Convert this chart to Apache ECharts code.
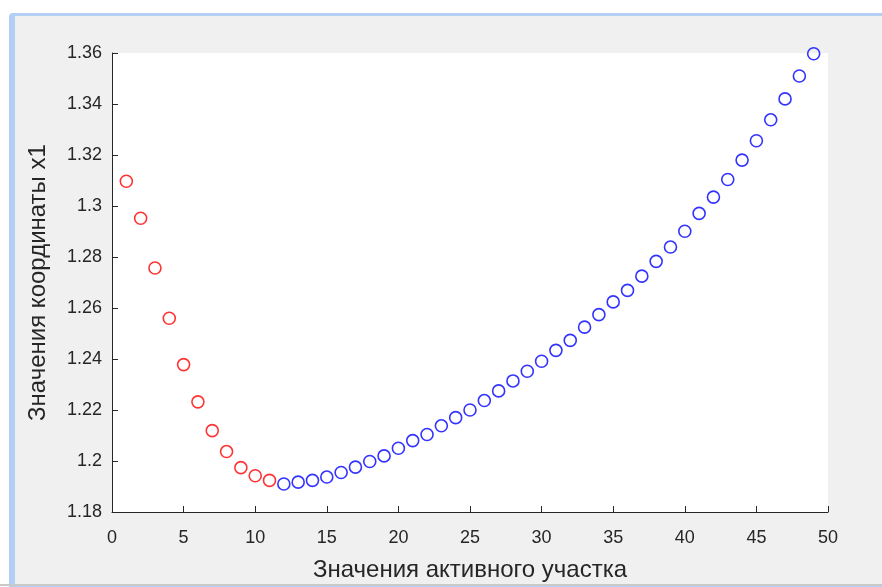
<!DOCTYPE html>
<html>
<head>
<meta charset="utf-8">
<script src="https://cdn.jsdelivr.net/npm/echarts@6/dist/echarts.min.js"></script>
<style>
html,body{margin:0;padding:0;background:#fff;}
#chart{width:882px;height:587px;}
</style>
</head>
<body>
<div id="chart"></div>
<script>
// Data
const xRed = [1,2,3,4,5,6,7,8,9,10,11];
const yRed = [1.3097,1.2952,1.2757,1.2560,1.2378,1.2232,1.2119,1.2037,1.1974,1.1942,1.1924];
const xBlue = [12,13,14,15,16,17,18,19,20,21,22,23,24,25,26,27,28,29,30,31,32,33,34,35,36,37,38,39,40,41,42,43,44,45,46,47,48,49];
const yBlue = [1.1910,1.1917,1.1924,1.1937,1.1955,1.1976,1.1998,1.2020,1.2050,1.2080,1.2104,1.2138,1.2170,1.2200,1.2237,1.2275,1.2314,1.2352,1.2391,1.2434,1.2473,1.2525,1.2574,1.2624,1.2669,1.2725,1.2783,1.2839,1.2901,1.2971,1.3035,1.3104,1.3180,1.3256,1.3338,1.3420,1.3510,1.3597];
const xTickLabels = ['0','5','10','15','20','25','30','35','40','45','50'];
const yTickLabels = ['1.18','1.2','1.22','1.24','1.26','1.28','1.3','1.32','1.34','1.36'];
const xTitle = 'Значения активного участка';
const yTitle = 'Значения координаты x1';

const FONT = 'Liberation Sans, Arial, Helvetica, sans-serif';
const AX = '#262626';

const chart = echarts.init(document.getElementById('chart'), null, {renderer:'canvas'});
const pairs = (xs, ys) => xs.map((x,i)=>[x, ys[i]]);

chart.setOption({
  backgroundColor: '#ffffff',
  animation: false,
  graphic: [
    {type:'rect', z:-100, silent:true, shape:{x:9, y:13, width:900, height:590, r:4}, style:{fill:'#b3cff3'}},
    {type:'rect', z:-99, silent:true, shape:{x:15, y:16, width:880, height:568}, style:{fill:'#f0f0f0'}},
    {type:'line', z:-98, silent:true, shape:{x1:0, y1:585, x2:882, y2:585}, style:{stroke:'#c9c9c9', lineWidth:2}}
  ],
  grid: {
    left: 112, right: 54, top: 53, bottom: 73,
    show: true, backgroundColor: '#ffffff', borderWidth: 0
  },
  xAxis: {
    type: 'value', min: 0, max: 50, interval: 5,
    name: xTitle, nameLocation: 'middle', nameGap: 46,
    nameTextStyle: {fontFamily: FONT, fontSize: 24, color: AX},
    axisLine: {show: true, lineStyle: {color: AX, width: 1}},
    axisTick: {show: true, inside: true, length: 6, lineStyle: {color: AX}},
    axisLabel: {
      fontFamily: FONT, fontSize: 18, color: AX, margin: 17,
      formatter: v => xTickLabels[Math.round(v/5)]
    },
    splitLine: {show: false}
  },
  yAxis: {
    type: 'value', min: 1.18, max: 1.36, interval: 0.02,
    name: yTitle, nameLocation: 'middle', nameGap: 62, nameRotate: 90,
    nameTextStyle: {fontFamily: FONT, fontSize: 24, color: AX},
    axisLine: {show: true, lineStyle: {color: AX, width: 1}},
    axisTick: {show: true, inside: true, length: 6, lineStyle: {color: AX}},
    axisLabel: {
      fontFamily: FONT, fontSize: 18, color: AX, margin: 10,
      formatter: v => yTickLabels[Math.round((v-1.18)/0.02)]
    },
    splitLine: {show: false}
  },
  series: [
    {
      type: 'scatter', data: pairs(xRed, yRed), symbol: 'circle', symbolSize: 12,
      itemStyle: {color: 'rgba(0,0,0,0)', borderColor: '#ff0000', borderWidth: 1.6}
    },
    {
      type: 'scatter', data: pairs(xBlue, yBlue), symbol: 'circle', symbolSize: 12,
      itemStyle: {color: 'rgba(0,0,0,0)', borderColor: '#0000ff', borderWidth: 1.6}
    }
  ]
});
</script>
</body>
</html>
